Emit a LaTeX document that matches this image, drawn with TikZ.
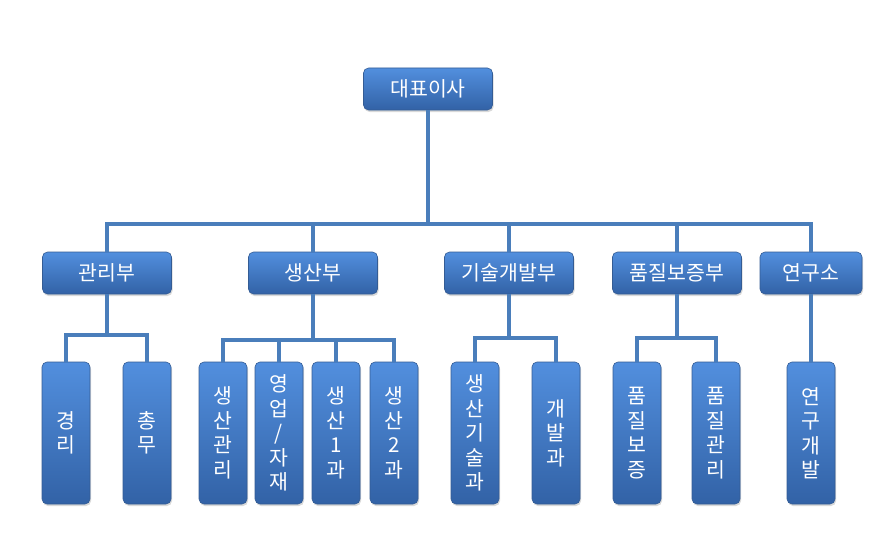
\documentclass[tikz,border=0pt]{standalone}
\usepackage{fontspec}
\newfontfamily\kr{Noto Sans CJK KR}
\usetikzlibrary{shadows}
\definecolor{boxtop}{RGB}{82,143,222}
\definecolor{boxbot}{RGB}{50,98,166}
\definecolor{boxline}{RGB}{52,92,148}
\definecolor{linkblue}{RGB}{74,126,187}

\begin{document}
\begin{tikzpicture}[x=1pt, y=-1pt,
    dept/.style={draw=boxline, line width=0.6pt, rounded corners=5pt, top color=boxtop, bottom color=boxbot, text=white, font=\kr\fontsize{20.5}{24.5}\selectfont, minimum width=129pt, minimum height=42pt, inner sep=0pt, drop shadow={shadow xshift=1pt, shadow yshift=-2pt, opacity=0.3}},
    team/.style={dept, minimum width=48pt, minimum height=142pt, align=center},
    link/.style={draw=linkblue, line width=4pt}]
    \useasboundingbox (0,0) rectangle (889,551);

    \node[dept] (ceo) at (428,89) {대표이사};

    \node[dept] (d_1) at (107,273) {관리부};
    \node[dept] (d_2) at (313,273) {생산부};
    \node[dept] (d_3) at (509,273) {기술개발부};
    \node[dept] (d_4) at (677,273) {품질보증부};
    \node[dept, minimum width=102pt] (d_5) at (811,273) {연구소};

    \node[team] (t_1) at (66,433) {경\\리};
    \node[team] (t_2) at (147,433) {총\\무};
    \node[team] (t_3) at (223,433) {생\\산\\관\\리};
    \node[team] (t_4) at (279,433) {영\\업\\/\\자\\재};
    \node[team] (t_5) at (336,433) {생\\산\\1\\과};
    \node[team] (t_6) at (394,433) {생\\산\\2\\과};
    \node[team] (t_7) at (475,433) {생\\산\\기\\술\\과};
    \node[team] (t_8) at (556,433) {개\\발\\과};
    \node[team] (t_9) at (637,433) {품\\질\\보\\증};
    \node[team] (t_10) at (716,433) {품\\질\\관\\리};
    \node[team] (t_11) at (811,433) {연\\구\\개\\발};

    \coordinate (bus) at (428,224);
    \coordinate (b_1) at (107,335);
    \coordinate (b_2) at (313,340);
    \coordinate (b_3) at (509,338);
    \coordinate (b_4) at (677,338);

    \draw[link] (ceo) -- (bus);
    \foreach \d in {1,...,5}
        \draw[link] (bus) -| (d_\d.north);

    \draw[link] (d_1) -- (b_1);
    \draw[link] (b_1) -| (t_1.north);
    \draw[link] (b_1) -| (t_2.north);
    \draw[link] (d_2) -- (b_2);
    \foreach \t in {3,...,6}
        \draw[link] (b_2) -| (t_\t.north);
    \draw[link] (d_3) -- (b_3);
    \draw[link] (b_3) -| (t_7.north);
    \draw[link] (b_3) -| (t_8.north);
    \draw[link] (d_4) -- (b_4);
    \draw[link] (b_4) -| (t_9.north);
    \draw[link] (b_4) -| (t_10.north);
    \draw[link] (d_5) -- (t_11);
\end{tikzpicture}
\end{document}
